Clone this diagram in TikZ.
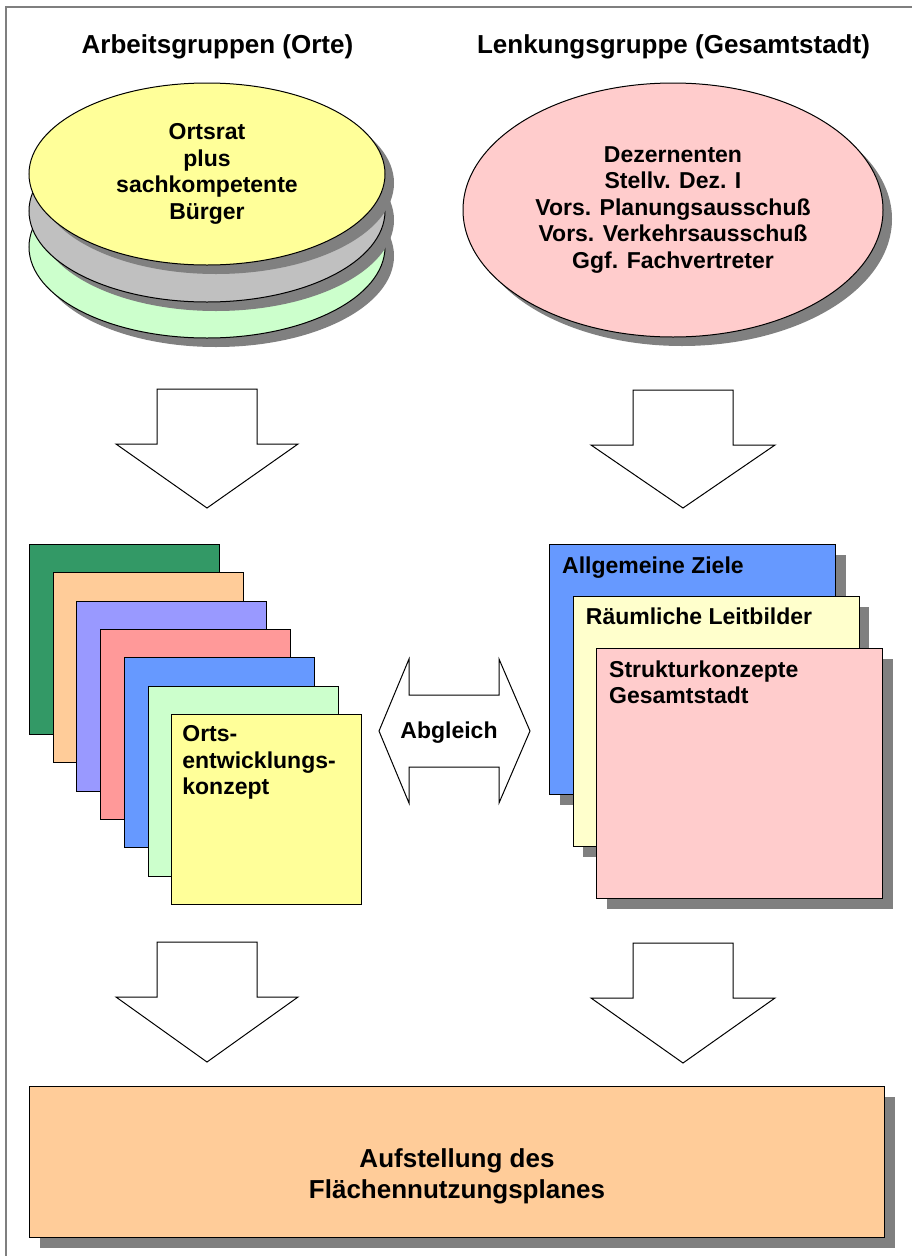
\documentclass[tikz,border=0pt]{standalone}
\usepackage{fontspec}
\setmainfont{Liberation Sans}
\usetikzlibrary{shapes.geometric,shadows}
\definecolor{shgray}{HTML}{808080}
\definecolor{framegray}{HTML}{7F7F7F}
\definecolor{discyellow}{HTML}{FFFF99}
\definecolor{discgray}{HTML}{C0C0C0}
\definecolor{discgreen}{HTML}{CCFFCC}
\definecolor{discpink}{HTML}{FFCCCC}
\definecolor{pA}{HTML}{339966}
\definecolor{pB}{HTML}{FFCC99}
\definecolor{pC}{HTML}{9999FF}
\definecolor{pD}{HTML}{FF9999}
\definecolor{pE}{HTML}{6699FF}
\definecolor{pF}{HTML}{CCFFCC}
\definecolor{pG}{HTML}{FFFF99}
\definecolor{rA}{HTML}{6699FF}
\definecolor{rB}{HTML}{FFFFCC}
\definecolor{rC}{HTML}{FFCCCC}
\definecolor{boxorange}{HTML}{FFCC99}
\begin{document}
\begin{tikzpicture}[x=1pt,y=-1pt,
  txt/.style={font=\fontsize{23}{26.5}\selectfont\bfseries, inner sep=0pt},
  headtxt/.style={font=\fontsize{26}{31}\selectfont\bfseries, inner sep=0pt},
  shadnine/.style={drop shadow={shadow xshift=9pt,shadow yshift=-9pt,fill=shgray,opacity=1}},
  shadten/.style={drop shadow={shadow xshift=10pt,shadow yshift=-10pt,fill=shgray,opacity=1}},
  disc/.style={ellipse, draw=black, line width=1pt, minimum width=356pt, minimum height=182pt, inner sep=0pt, shadnine},
  paper/.style={rectangle, draw=black, line width=1pt, inner sep=0pt, anchor=north west},
  blockarrow/.style={draw=black, fill=white, line width=1pt, line join=miter},
  framestyle/.style={draw=framegray, line width=2pt}]

\useasboundingbox (0,0) rectangle (912,1256);
\fill[white] (0,0) rectangle (912,1256);
\draw[framestyle] (6,1256) -- (6,7) -- (912,7);

% headings
\node[headtxt, anchor=base] (hl) at (217.5,53) {Arbeitsgruppen (Orte)};
\node[headtxt, anchor=base] (hr) at (673.5,53) {Lenkungsgruppe (Gesamtstadt)};

% left disc stack
\node[disc, fill=discgreen] (e3) at (207,247) {};
\node[disc, fill=discgray] (e2) at (207,211) {};
\node[disc, fill=discyellow, txt, align=center] (e1) at (207,174) {Ortsrat\\plus\\sachkompetente\\Bürger};

% right disc
\node[disc, minimum width=420pt, minimum height=254pt, fill=discpink, txt, align=center] (er) at (673,210)
  {Dezernenten\\Stellv. Dez. I\\Vors. Planungsausschuß\\Vors. Verkehrsausschuß\\Ggf. Fachvertreter};

% upper block arrows
\draw[blockarrow] (157,389) -- (257,389) -- (257,444) -- (298,444) -- (207,508) -- (116,444) -- (157,444) -- cycle;
\draw[blockarrow] (633,390) -- (733,390) -- (733,445) -- (775,445) -- (683,508) -- (591,445) -- (633,445) -- cycle;

% left paper stack
\foreach \c [count=\i] in {pA,pB,pC,pD,pE,pF,pG} {
  \node[paper, fill=\c, minimum width=190pt, minimum height=190pt] (l\i) at ({29+23.7*(\i-1)},{544+28.3*(\i-1)}) {};
}
\node[txt, anchor=north west, align=left] (ltext) at ([xshift=11pt,yshift=-11.7pt]l7.north west) {Orts-\\entwicklungs-\\konzept};

% double arrow Abgleich
\draw[blockarrow] (379,731) -- (409,659) -- (409,695) -- (499,695) -- (499,659) -- (530,731)
  -- (499,803) -- (499,767) -- (409,767) -- (409,803) -- cycle;
\node[txt, anchor=base] (abg) at (449,738) {Abgleich};

% right paper stack
\node[paper, fill=rA, minimum width=286pt, minimum height=250pt, shadten] (r1) at (549,544) {};
\node[txt, anchor=north west] (r1t) at ([xshift=13pt,yshift=-12.2pt]r1.north west) {Allgemeine Ziele};
\node[paper, fill=rB, minimum width=286pt, minimum height=250pt, shadten] (r2) at (572.7,596) {};
\node[txt, anchor=north west] (r2t) at ([xshift=13pt,yshift=-11.2pt]r2.north west) {Räumliche Leitbilder};
\node[paper, fill=rC, minimum width=286pt, minimum height=250pt, shadten] (r3) at (596.4,648) {};
\node[txt, anchor=north west, align=left] (r3t) at ([xshift=12.6pt,yshift=-12.2pt]r3.north west) {Strukturkonzepte\\Gesamtstadt};

% lower block arrows
\draw[blockarrow] (157,942) -- (257,942) -- (257,997) -- (298,997) -- (207,1062) -- (116,997) -- (157,997) -- cycle;
\draw[blockarrow] (633,943) -- (733,943) -- (733,998) -- (775,998) -- (683,1063) -- (591,998) -- (633,998) -- cycle;

% bottom box
\node[paper, fill=boxorange, minimum width=855pt, minimum height=151pt, shadten] (fnp) at (29,1086) {};
\node[headtxt, align=center, anchor=north] (fnpt) at (457,1148) {Aufstellung des\\Flächennutzungsplanes};
\end{tikzpicture}
\end{document}
